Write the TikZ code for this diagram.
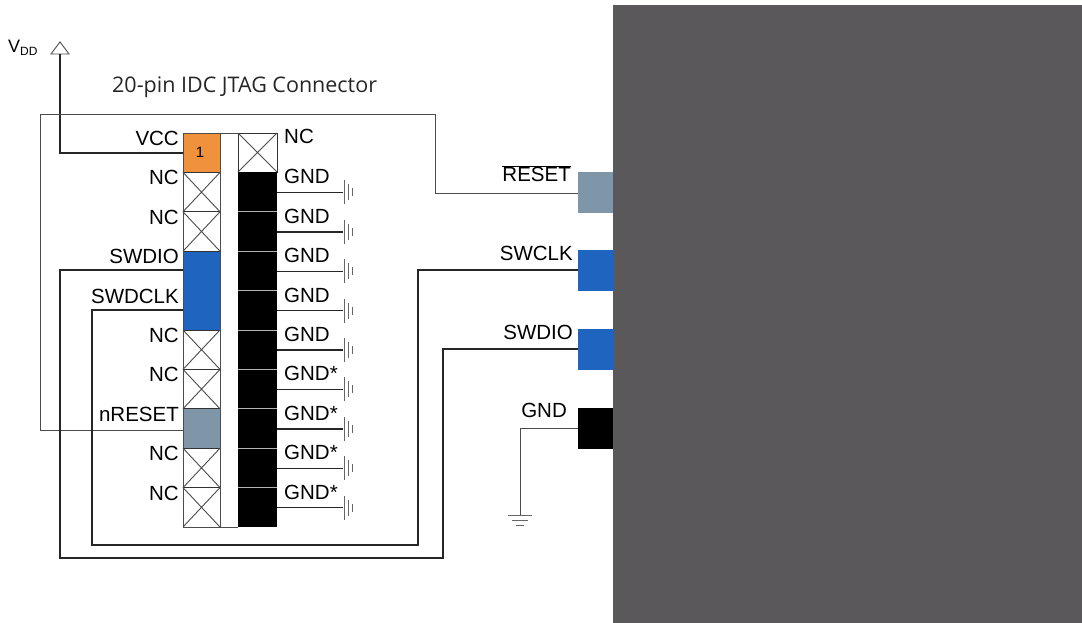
\documentclass[tikz,border=0pt]{standalone}
\usepackage{fontspec}
\setmainfont{Liberation Sans}
\newfontfamily\titlefont{Open Sans}
\begin{document}
\begin{tikzpicture}[x=1pt,y=-1pt,
  wire/.style={line width=1.4pt,black!85},
  thin/.style={line width=0.9pt,black!70},
  lbl/.style={font=\fontsize{20.5}{20}\selectfont,inner sep=0pt},
  nc/.style={draw=black!80,line width=0.8pt,fill=white},
  gndsym/.style={line width=0.9pt,black!60}]
\useasboundingbox (0,0) rectangle (1082,623);
\definecolor{orng}{HTML}{F0923C}
\definecolor{pblue}{HTML}{1F65C0}
\definecolor{pgrey}{HTML}{7F96A8}
\definecolor{chip}{HTML}{5A585A}
% chip
\node[draw=none,fill=chip,minimum width=469,minimum height=618,inner sep=0,anchor=north west] (chipb) at (613,5) {};
% left column
\foreach \i/\c in {0/orng,3/pblue,4/pblue,7/pgrey}{
  \fill[\c] (183,{133+39.4*\i}) rectangle (220,{133+39.4*(\i+1)});}
\foreach \i in {1,2,5,6,8,9}{
  \draw[nc] (183,{133+39.4*\i}) rectangle (220,{133+39.4*(\i+1)});
  \draw[thin] (183,{133+39.4*\i}) -- (220,{133+39.4*(\i+1)}) (183,{133+39.4*(\i+1)}) -- (220,{133+39.4*\i});}
\node[inner sep=0,font=\fontsize{15}{15}\selectfont] (one) at (200,152) {1};
\draw[thin] (183,133) rectangle (220,527);
% right column
\draw[nc] (238,133) rectangle (277,172);
\draw[thin] (238,133) -- (277,172) (238,172) -- (277,133);
\fill[black] (238,172) rectangle (277,527);
\foreach \i in {2,...,9}{\draw[black!30,line width=1pt] (238,{133+39.4*\i}) -- (277,{133+39.4*\i});}
\draw[thin] (220,133) -- (238,133) (220,527) -- (238,527);
% right labels and grounds
\node[lbl,anchor=north west] (ncr) at (284,129) {NC};
\foreach \i/\t in {1/GND,2/GND,3/GND,4/GND,5/GND,6/GND*,7/GND*,8/GND*,9/GND*}{
  \node[lbl,anchor=north west] (g\i) at (284,{133+39.4*\i-3}) {\t};
  \draw[wire] (277,{133+39.4*\i+20}) -- (343,{133+39.4*\i+20});
  \draw[gndsym] (344,{133+39.4*\i+8}) -- (344,{133+39.4*\i+32})
     (348,{133+39.4*\i+12}) -- (348,{133+39.4*\i+28})
     (352,{133+39.4*\i+16}) -- (352,{133+39.4*\i+24});}
% left labels
\foreach \i/\t in {0/VCC,1/NC,2/NC,3/SWDIO,4/SWDCLK,5/NC,6/NC,7/nRESET,8/NC,9/NC}{
  \node[lbl,anchor=north east] (l\i) at (179,{133+39.4*\i-2}) {\t};}
% title
\node[inner sep=0,anchor=south west,font=\titlefont\fontsize{21.5}{21}\selectfont,text=black!85] (title) at (112,98) {20-pin IDC JTAG Connector};
% VDD
\draw[thin,fill=white] (51,54) -- (60,42) -- (69,54) -- cycle;
\node[lbl,anchor=west,font=\fontsize{18}{18}\selectfont] (vdd) at (8,48) {V\textsubscript{\fontsize{12}{12}\selectfont DD}};
\draw[wire] (60,54) -- (60,153) -- (183,153);
% chip pins
\fill[pgrey] (578,172) rectangle (613,213);
\fill[pblue] (578,250) rectangle (613,291);
\fill[pblue] (578,329) rectangle (613,370);
\fill[black] (578,408) rectangle (613,449);
\node[lbl,anchor=south east] (rst) at (571,182) {$\overline{\mbox{RESET}}$};
\node[lbl,anchor=south east] (clk) at (573,261) {SWCLK};
\node[lbl,anchor=south east] (dio) at (573,340) {SWDIO};
\node[lbl,anchor=south east] (gnd) at (567,418) {GND};
% wires
\draw[thin] (183,430) -- (40,430) -- (40,114) -- (435,114) -- (435,193) -- (578,193);
\draw[wire] (183,270) -- (60,270) -- (60,558) -- (443,558) -- (443,349) -- (578,349);
\draw[wire] (183,310) -- (92,310) -- (92,545) -- (418,545) -- (418,270) -- (578,270);
\draw[thin] (578,428) -- (520,428) -- (520,515);
\draw[gndsym] (508,515) -- (532,515) (512,520) -- (528,520) (516,525) -- (524,525);
\end{tikzpicture}
\end{document}
